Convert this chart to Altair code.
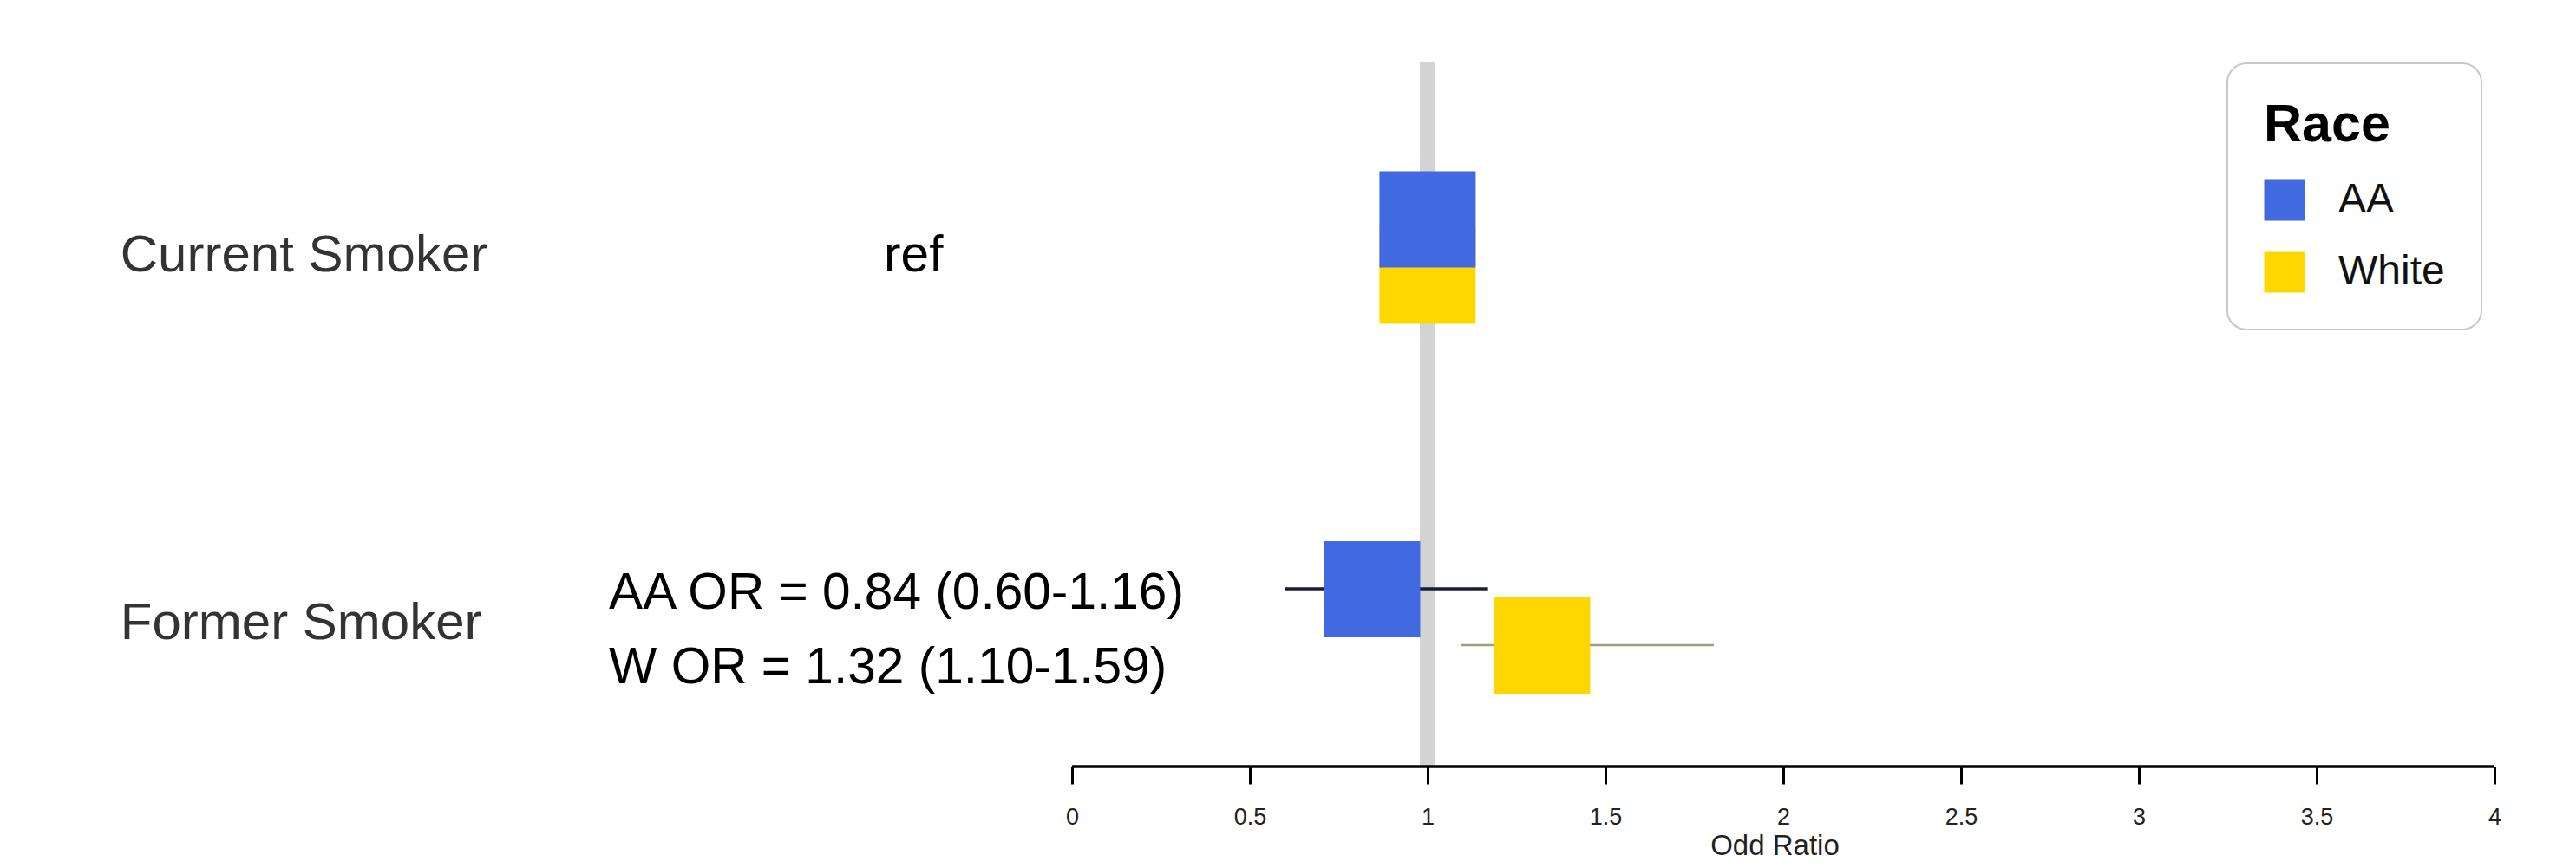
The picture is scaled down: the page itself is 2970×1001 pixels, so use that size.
import altair as alt
import pandas as pd

# ---- data ----
box_race = ["White", "AA", "AA", "White"]
box_row = ["Current Smoker", "Current Smoker", "Former Smoker", "Former Smoker"]
box_or = [1.0, 1.0, 0.844, 1.322]
box_ypos = [5.66, 6.31, 2.045, 1.395]

ci_race = ["AA", "White"]
ci_lo = [0.60, 1.095]
ci_hi = [1.17, 1.805]
ci_ypos = [2.05, 1.40]
ci_colors = ["#1a1a3a", "#a39c7c"]
ci_widths = [3.5, 2.5]

row_labels = ["Current Smoker", "Former Smoker"]
row_label_x = [-2.676, -2.676]
row_label_y = [5.71, 1.47]

ann_text = ["ref", "AA OR = 0.84 (0.60-1.16)", "W OR = 1.32 (1.10-1.59)"]
ann_x = [-0.529, -1.302, -1.302]
ann_y = [5.71, 1.82, 0.96]

tick_values = [0, 0.5, 1, 1.5, 2, 2.5, 3, 3.5, 4]
ref_value = 1.0
ref_top = 8.12

W, H = 2954, 876
x_scale = alt.Scale(domain=[-2.995, 4.21], nice=False, zero=False)
y_scale = alt.Scale(domain=[0, 8.76], nice=False, zero=False)

xaxis = alt.Axis(
    values=tick_values, labelExpr="'' + datum.value", domain=False, grid=False,
    tickSize=20, tickWidth=3, tickColor="black",
    labelFontSize=27, labelColor="#222222", labelPadding=25, labelFlush=False,
    title="Odd Ratio", titleFontSize=33, titleFontWeight="normal", titleColor="#222222",
    titleX=2038, titleY=101, titleBaseline="alphabetic", titleAlign="center",
)
X = alt.X("x:Q", scale=x_scale, axis=xaxis)
Y = alt.Y("y:Q", scale=y_scale, axis=None)

color = alt.Color(
    "race:N",
    scale=alt.Scale(domain=["AA", "White"], range=["#4169E1", "#FFD700"]),
    legend=alt.Legend(
        orient="none", legendX=2560, legendY=65, title="Race",
        titleFontSize=61, titleFontWeight="bold", titleColor="black", titlePadding=31,
        labelFontSize=48, labelColor="#111111", labelOffset=38, rowPadding=35,
        symbolType="square", symbolSize=2209, symbolStrokeWidth=0, symbolOpacity=1,
        padding=42, cornerRadius=22, strokeColor="#c8c8c8", fillColor="white",
    ),
)

ref_df = pd.DataFrame({"x": [ref_value], "y": [0.0], "y2": [ref_top]})
refline = alt.Chart(ref_df).mark_rule(color="#d3d3d3", strokeWidth=18).encode(
    x=X, y=Y, y2="y2:Q"
)

axis_df = pd.DataFrame({"x": [tick_values[0]], "x2": [tick_values[-1]], "y": [0.0]})
axisline = alt.Chart(axis_df).mark_rule(color="black", strokeWidth=3.5).encode(
    x=X, x2="x2:Q", y=Y
)

ci_df = pd.DataFrame({"x": ci_lo, "x2": ci_hi, "y": ci_ypos, "race": ci_race})
ci_layers = [
    alt.Chart(ci_df).transform_filter(alt.datum.race == r)
    .mark_rule(color=c, strokeWidth=w)
    .encode(x=X, x2="x2:Q", y=Y)
    for r, c, w in zip(ci_race, ci_colors, ci_widths)
]

box_df = pd.DataFrame({"x": box_or, "y": box_ypos, "race": box_race, "row": box_row})
boxes = alt.Chart(box_df).mark_square(size=12321, opacity=1, strokeWidth=0).encode(
    x=X, y=Y, color=color
)

lab_df = pd.DataFrame({"x": row_label_x, "y": row_label_y, "t": row_labels})
labels = alt.Chart(lab_df).mark_text(
    align="left", baseline="alphabetic", fontSize=60, color="#333333"
).encode(x=X, y=Y, text="t:N")

ann_df = pd.DataFrame({"x": ann_x, "y": ann_y, "t": ann_text})
ann = alt.Chart(ann_df).mark_text(
    align="left", baseline="alphabetic", fontSize=58.6, color="black"
).encode(x=X, y=Y, text="t:N")

chart = alt.layer(refline, axisline, *ci_layers, boxes, labels, ann).properties(
    width=W, height=H,
    autosize=alt.AutoSizeParams(type="none"),
    padding={"left": 0, "top": 0, "right": 0, "bottom": 109},
).configure(font="Liberation Sans").configure_view(strokeWidth=0).configure_legend(strokeWidth=2)

chart.save("out.html", embed_options={"renderer": "svg", "actions": False})
